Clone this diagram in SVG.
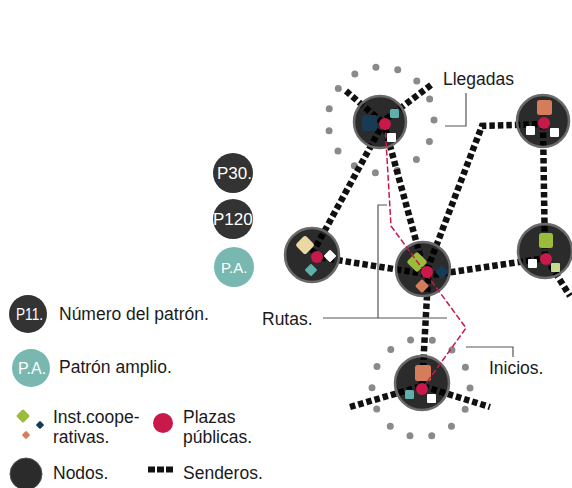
<svg xmlns="http://www.w3.org/2000/svg" width="572" height="488" viewBox="0 0 572 488">
<style>
.node{fill:#000;fill-opacity:0.83;stroke:#6a6a6a;stroke-width:2.5}
.trail{fill:none;stroke:#111;stroke-width:6.5;stroke-dasharray:5.5 3}
.route{fill:none;stroke:#c8194a;stroke-width:1.5;stroke-dasharray:6 2.5}
.plaza{fill:#c8194a}
.ring{fill:none;stroke:#8a8a8a;stroke-width:7;stroke-linecap:round}
.lbl{font-family:"Liberation Sans",Arial,sans-serif;font-size:17.5px;fill:#1a1a1a}
.pl{font-family:"Liberation Sans",Arial,sans-serif;font-size:17px;fill:#fff}
.lead{fill:none;stroke:#555;stroke-width:1.2}
.white{fill:#fff}
.teal{fill:#5fb0aa}
.navy{fill:#183a55}
.orange{fill:#d47d5b}
.green{fill:#9bbb3b}
.beige{fill:#ead8a3}
.lgreen{fill:#c7dc8e}
</style>

<!-- dotted rings -->
<g id="ring-llegadas"><circle class="ring" cx="381" cy="120" r="53" stroke-dasharray="0 22.2"/></g>
<g id="ring-inicios"><circle class="ring" cx="421" cy="388" r="49" stroke-dasharray="0 22"/></g>

<g id="connectors">
<path class="trail" d="M346 91 L382 122"/>
<path class="trail" d="M431 85 L382 122"/>
<path class="trail" d="M384 122 L312 254"/>
<path class="trail" d="M383 120 L424 270"/>
<path class="trail" d="M427 270 L482 126 L543 124"/>
<path class="trail" d="M543 124 L545 258"/>
<path class="trail" d="M312 256 L425 274"/>
<path class="trail" d="M425 276 L546 258"/>
<path class="trail" d="M546 258 L570 296"/>
<path class="trail" d="M428 278 L422 386"/>
<path class="trail" d="M350 407 L422 386 L490 407"/>
</g>

<g id="node-top">
<circle class="node" cx="380" cy="122" r="26"/>
<rect class="navy" x="362" y="115" width="15" height="16" rx="2.5"/>
<rect class="teal" x="390" y="109" width="9" height="9" rx="1.5"/>
<rect class="white" x="387" y="133" width="9" height="9" rx="1"/>
<circle class="plaza" cx="385" cy="124" r="6"/>
</g>

<g id="node-topright">
<circle class="node" cx="543" cy="121" r="26"/>
<rect class="orange" x="537" y="100" width="15" height="15" rx="2.5"/>
<rect class="white" x="526" y="126" width="9" height="9" rx="1"/>
<rect class="white" x="550" y="128" width="9" height="9" rx="1"/>
<circle class="plaza" cx="544" cy="123" r="6"/>
</g>

<g id="node-left">
<circle class="node" cx="312" cy="255" r="27"/>
<rect class="beige" x="298" y="238" width="14" height="14" rx="2.5" transform="rotate(45 305 245)"/>
<rect class="white" x="325.5" y="251.5" width="9" height="9" rx="1" transform="rotate(45 330 256)"/>
<rect class="teal" x="306.5" y="265.5" width="9" height="9" rx="1" transform="rotate(45 311 270)"/>
<circle class="plaza" cx="317" cy="257" r="6"/>
</g>

<g id="node-center">
<circle class="node" cx="423" cy="269" r="27"/>
<rect class="green" x="409.5" y="254.5" width="15" height="15" rx="2.5" transform="rotate(45 417 262)"/>
<rect class="navy" x="437" y="267" width="10" height="10" rx="1.5" transform="rotate(45 442 272)"/>
<rect class="orange" x="417" y="281" width="10" height="10" rx="1.5" transform="rotate(45 422 286)"/>
<circle class="plaza" cx="427" cy="272" r="6"/>
</g>

<g id="node-right">
<circle class="node" cx="545" cy="251" r="27"/>
<rect class="green" x="539" y="233" width="14" height="15" rx="2.5"/>
<rect class="white" x="528" y="259" width="9" height="9" rx="1"/>
<rect class="lgreen" x="551" y="263" width="9" height="9" rx="1"/>
<circle class="plaza" cx="546" cy="259" r="6"/>
</g>

<g id="node-bottom">
<circle class="node" cx="422" cy="383" r="27"/>
<rect class="orange" x="415" y="365" width="16" height="16" rx="2.5"/>
<rect class="teal" x="405" y="390" width="9" height="9" rx="1.5"/>
<rect class="white" x="427" y="394" width="9" height="9" rx="1"/>
<circle class="plaza" cx="422" cy="389" r="6"/>
</g>

<g id="route">
<path class="route" d="M385 124 L391 226 L466 328 L422 389"/>
</g>

<g id="label-llegadas">
<text class="lbl" x="443" y="85">Llegadas</text>
<path class="lead" d="M466 93 V126 H445"/>
</g>
<g id="label-rutas">
<text class="lbl" x="262" y="325">Rutas.</text>
<path class="lead" d="M323 318 H447 M378 318 V205 H387"/>
</g>
<g id="label-inicios">
<text class="lbl" x="489" y="374">Inicios.</text>
<path class="lead" d="M466 347 H513 V357"/>
</g>

<g id="legend-p30">
<circle cx="233" cy="173" r="20" fill="#333"/>
<text class="pl" x="217" y="179">P30.</text>
</g>
<g id="legend-p120">
<circle cx="233" cy="219" r="20" fill="#333"/>
<text class="pl" x="213" y="225">P120</text>
</g>
<g id="legend-pa">
<circle cx="234" cy="267" r="20" fill="#78b8b0"/>
<text class="pl" x="221" y="273" style="font-size:15px">P.A.</text>
</g>

<g id="legend-p11">
<circle cx="28" cy="314" r="19" fill="#333"/>
<text class="pl" x="16" y="320" textLength="27" lengthAdjust="spacingAndGlyphs">P11.</text>
<text class="lbl" x="59" y="320">Número del patrón.</text>
</g>
<g id="legend-patron-amplio">
<circle cx="31" cy="368" r="19" fill="#78b8b0"/>
<text class="pl" x="18" y="374" style="font-size:16px">P.A.</text>
<text class="lbl" x="59" y="373">Patrón amplio.</text>
</g>

<g id="legend-inst">
<rect class="green" x="18" y="411" width="10" height="10" rx="1.5" transform="rotate(45 23 416)"/>
<rect class="navy" x="37" y="422" width="6" height="6" rx="1" transform="rotate(45 40 425)"/>
<rect class="orange" x="23" y="432" width="6" height="6" rx="1" transform="rotate(45 26 435)"/>
<text class="lbl" x="53" y="423">Inst.coope-</text>
<text class="lbl" x="53" y="443">rativas.</text>
</g>
<g id="legend-plazas">
<circle class="plaza" cx="163" cy="423" r="10"/>
<text class="lbl" x="183" y="423">Plazas</text>
<text class="lbl" x="183" y="443">públicas.</text>
</g>
<g id="legend-nodos">
<circle cx="26" cy="474" r="16" fill="#2b2b2b" stroke="#555" stroke-width="1"/>
<text class="lbl" x="53" y="479">Nodos.</text>
</g>
<g id="legend-senderos">
<line x1="148" y1="469.5" x2="174" y2="469.5" stroke="#111" stroke-width="6" stroke-dasharray="7 2"/>
<text class="lbl" x="183" y="479">Senderos.</text>
</g>
</svg>
